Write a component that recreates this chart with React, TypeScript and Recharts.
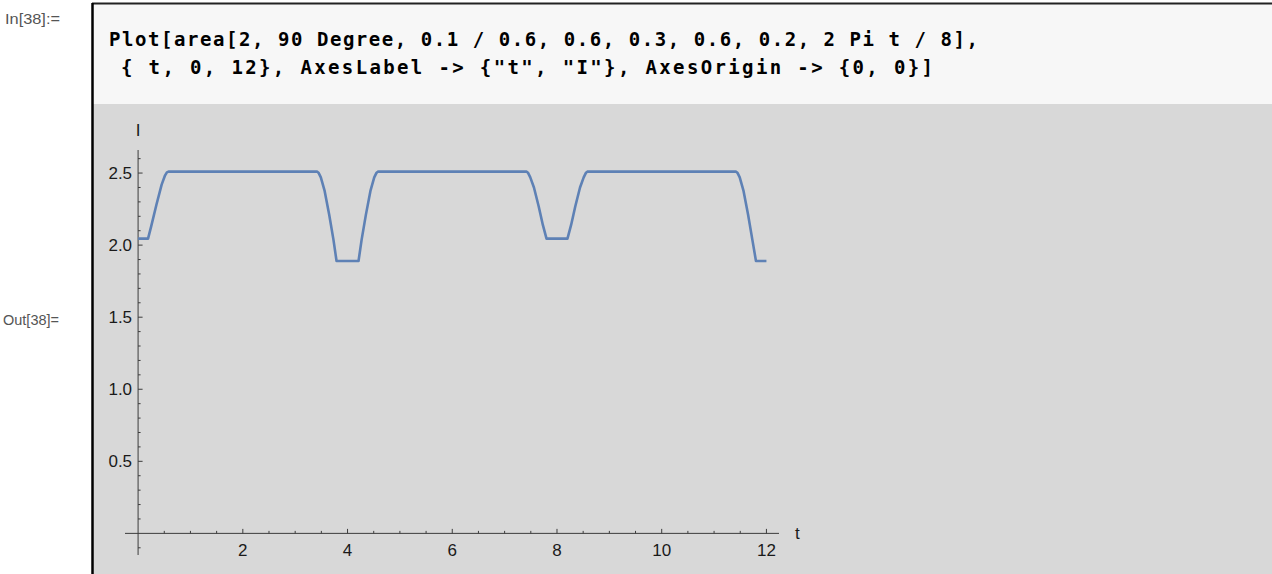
import React from 'react';
import { LineChart, Line, XAxis, YAxis, ReferenceLine, Label } from 'recharts';

// values
const tValues = [
  0, 0.19, 0.25, 0.35, 0.45, 0.51, 0.55, 0.58,
  3.42, 3.45, 3.49, 3.56, 3.65, 3.73, 3.79,
  4.21, 4.27, 4.35, 4.44, 4.51, 4.55, 4.58,
  7.42, 7.45, 7.49, 7.56, 7.65, 7.73, 7.8,
  8.2, 8.27, 8.35, 8.44, 8.51, 8.55, 8.58,
  11.42, 11.45, 11.49, 11.56, 11.65, 11.73, 11.8, 12,
];
const iValues = [
  2.045, 2.045, 2.13, 2.28, 2.42, 2.48, 2.505, 2.51,
  2.51, 2.5, 2.47, 2.38, 2.21, 2.04, 1.89,
  1.89, 2.04, 2.21, 2.38, 2.47, 2.5, 2.51,
  2.51, 2.5, 2.47, 2.4, 2.27, 2.14, 2.045,
  2.045, 2.14, 2.27, 2.4, 2.47, 2.5, 2.51,
  2.51, 2.5, 2.47, 2.38, 2.21, 2.04, 1.89, 1.89,
];

const xTicks = [0.5, 1, 1.5, 2, 2.5, 3, 3.5, 4, 4.5, 5, 5.5, 6, 6.5, 7, 7.5, 8, 8.5, 9, 9.5, 10, 10.5, 11, 11.5, 12];
const xTickLabels = [2, 4, 6, 8, 10, 12];
const yTicks = [-0.1, 0.1, 0.2, 0.3, 0.4, 0.5, 0.6, 0.7, 0.8, 0.9, 1, 1.1, 1.2, 1.3, 1.4, 1.5, 1.6, 1.7, 1.8, 1.9, 2, 2.1, 2.2, 2.3, 2.4, 2.5, 2.6];
const yTickLabels = [0.5, 1, 1.5, 2, 2.5];

const data = tValues.map((t, i) => ({ t, I: iValues[i] }));

const X_MIN = -0.25;
const X_MAX = 12.24;
const Y_MIN = -0.15;
const Y_MAX = 2.66;
const PLOT = { left: 125, top: 150, width: 654, height: 405 };

// the axes cross at (0,0), not at the edges of the plot box
const xAxisShift = (PLOT.height * (0 - Y_MIN)) / (Y_MAX - Y_MIN);
const yAxisShift = (PLOT.width * (0 - X_MIN)) / (X_MAX - X_MIN);

const AXIS = '#3c3c3c';
const LABEL_FONT = '"Liberation Sans", Arial, sans-serif';
const LABEL_SIZE = 17;

const XTick = (props: any) => {
  const { x, y, payload } = props;
  const y0 = y - xAxisShift;
  const major = xTickLabels.includes(payload.value);
  return (
    <g>
      <line x1={x} x2={x} y1={y0} y2={y0 - (major ? 4.5 : 2.5)} stroke={AXIS} strokeWidth={1} />
      {major && (
        <text x={x} y={y0 + 23} textAnchor="middle" fontSize={LABEL_SIZE} fontFamily={LABEL_FONT} fill="#1a1a1a">
          {payload.value}
        </text>
      )}
    </g>
  );
};

const YTick = (props: any) => {
  const { x, y, payload } = props;
  const x0 = x + yAxisShift;
  const major = yTickLabels.includes(payload.value);
  return (
    <g>
      <line x1={x0} x2={x0 + (major ? 4.5 : 2.5)} y1={y} y2={y} stroke={AXIS} strokeWidth={1} />
      {major && (
        <text x={x0 - 6} y={y + 6} textAnchor="end" fontSize={LABEL_SIZE} fontFamily={LABEL_FONT} fill="#1a1a1a">
          {payload.value.toFixed(1)}
        </text>
      )}
    </g>
  );
};

const CODE_FONT = '"DejaVu Sans Mono", "Liberation Mono", monospace';

export default function App() {
  return (
    <div style={{ position: 'fixed', left: 0, top: 0, width: 1272, height: 574, background: '#fff', overflow: 'hidden' }}>
      <svg width={1272} height={574} style={{ position: 'absolute', left: 0, top: 0 }}>
        <rect x={92} y={3} width={1180} height={101} fill="#f7f7f7" />
        <rect x={92} y={104} width={1180} height={470} fill="#d8d8d8" />
        <line x1={92} x2={1272} y1={3.5} y2={3.5} stroke="#222" strokeWidth={2} />
        <line x1={92.5} x2={92.5} y1={3} y2={574} stroke="#000" strokeWidth={2.5} />
        <text x={5} y={24} fontSize={14} fontFamily={LABEL_FONT} fill="#555" textLength={55} lengthAdjust="spacingAndGlyphs">
          In[38]:=
        </text>
        <text x={3} y={325} fontSize={14} fontFamily={LABEL_FONT} fill="#555" textLength={56} lengthAdjust="spacingAndGlyphs">
          Out[38]=
        </text>
        <text x={109} y={46} fontSize={19} fontWeight="bold" fontFamily={CODE_FONT} fill="#000" textLength={869} lengthAdjust="spacing" xmlSpace="preserve">
          Plot[area[2, 90 Degree, 0.1 / 0.6, 0.6, 0.3, 0.6, 0.2, 2 Pi t / 8],
        </text>
        <text x={121} y={74} fontSize={19} fontWeight="bold" fontFamily={CODE_FONT} fill="#000" textLength={812} lengthAdjust="spacing" xmlSpace="preserve">
          {'{ t, 0, 12}, AxesLabel -> {"t", "I"}, AxesOrigin -> {0, 0}]'}
        </text>
      </svg>
      <div style={{ position: 'absolute', left: 0, top: 0 }}>
        <LineChart
          width={1272}
          height={574}
          data={data}
          margin={{ top: PLOT.top, left: PLOT.left - 1, right: 1272 - PLOT.left - PLOT.width, bottom: 574 - PLOT.top - PLOT.height - 1 }}
        >
          <XAxis
            dataKey="t"
            type="number"
            domain={[X_MIN, X_MAX]}
            ticks={xTicks}
            interval={0}
            height={1}
            tickSize={0}
            tickMargin={0}
            axisLine={false}
            tickLine={false}
            tick={<XTick />}
            allowDataOverflow
          />
          <YAxis
            type="number"
            domain={[Y_MIN, Y_MAX]}
            ticks={yTicks}
            interval={0}
            width={1}
            tickSize={0}
            tickMargin={0}
            axisLine={false}
            tickLine={false}
            tick={<YTick />}
            allowDataOverflow
          />
          <ReferenceLine y={0} stroke={AXIS} strokeWidth={1}>
            <Label value="t" position="right" offset={16} fontSize={LABEL_SIZE} fontFamily={LABEL_FONT} fill="#1a1a1a" stroke="none" />
          </ReferenceLine>
          <ReferenceLine x={0} stroke={AXIS} strokeWidth={1}>
            <Label value="I" position="top" offset={14} fontSize={LABEL_SIZE} fontFamily={LABEL_FONT} fill="#1a1a1a" stroke="none" />
          </ReferenceLine>
          <Line
            type="linear"
            dataKey="I"
            stroke="#5e81b5"
            strokeWidth={2.6}
            dot={false}
            isAnimationActive={false}
            strokeLinejoin="round"
          />
        </LineChart>
      </div>
    </div>
  );
}
